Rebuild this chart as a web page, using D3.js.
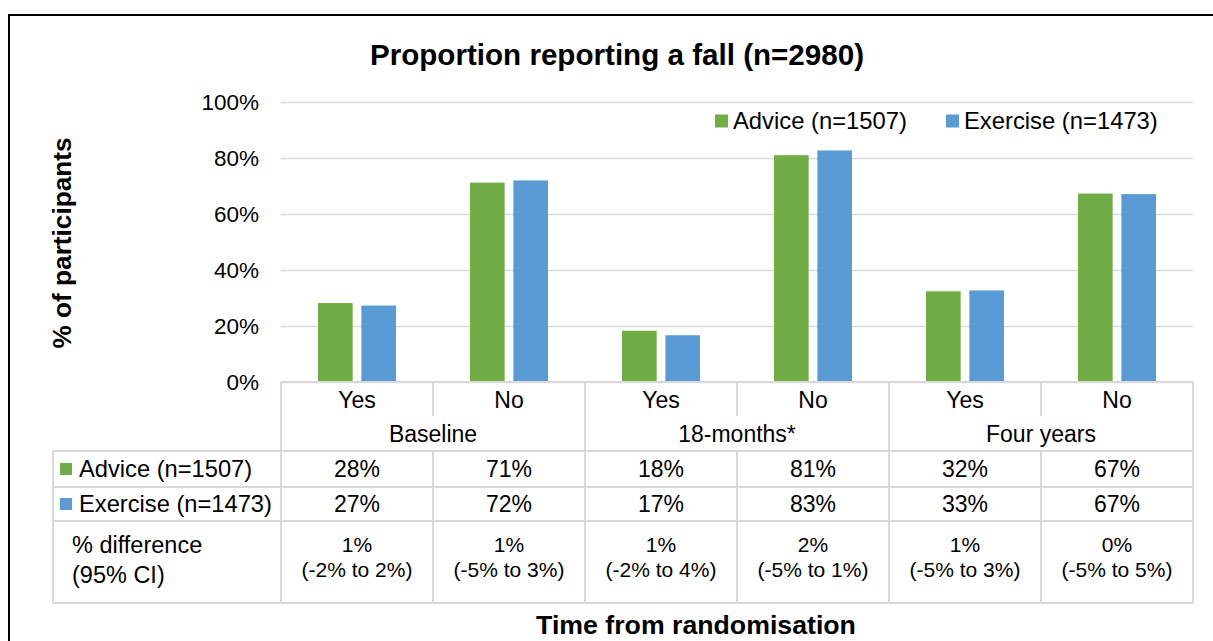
<!DOCTYPE html>
<html>
<head>
<meta charset="utf-8">
<script src="https://cdn.jsdelivr.net/npm/d3@7"></script>
<style>
    body { margin: 0; background: #fff; }
    svg { font-family: "Liberation Sans", Arial, sans-serif; }
</style>
</head>
<body>
<div id="fall-chart"></div>
<script>
// bar values and table labels
var categories = ["Yes", "No", "Yes", "No", "Yes", "No"];
var periods = ["Baseline", "18-months*", "Four years"];
var adviceValues = [28.2, 71.2, 18.3, 81.0, 32.4, 67.3];
var exerciseValues = [27.3, 72.0, 16.7, 82.7, 32.7, 67.1];
var adviceLabels = ["28%", "71%", "18%", "81%", "32%", "67%"];
var exerciseLabels = ["27%", "72%", "17%", "83%", "33%", "67%"];
var diffLabels = ["1%", "1%", "1%", "2%", "1%", "0%"];
var ciLabels = ["(-2% to 2%)", "(-5% to 3%)", "(-2% to 4%)", "(-5% to 1%)", "(-5% to 3%)", "(-5% to 5%)"];
var seriesNames = ["Advice (n=1507)", "Exercise (n=1473)"];
var yTicks = [0, 20, 40, 60, 80, 100];

var fallChart = function(containerElement){
    this.containerElement = containerElement;
    this.initializeGraph();
};

fallChart.prototype.initializeGraph = function(){

    var svg = d3.select(this.containerElement)
        .append("svg")
        .attr("width", 1213)
        .attr("height", 641);

    var plot = {left: 281, right: 1193, top: 102, bottom: 382};
    var rows = {group: 416, advice: 451, exercise: 487, diff: 521, end: 603};
    var tableLeft = 53;
    var gridColor = "#d9d9d9";

    var data = categories.map(function(c, i) {
        return {idx: i, cat: c, advice: adviceValues[i], exercise: exerciseValues[i]};
    });
    var keys = ["advice", "exercise"];

    var x0 = d3.scaleBand()
        .domain(d3.range(categories.length))
        .range([plot.left, plot.right])
        .padding(0);

    var x1 = d3.scaleBand()
        .domain(keys)
        .range([(x0.bandwidth() - 78) / 2, (x0.bandwidth() + 78) / 2])
        .paddingInner(0.2);

    var y = d3.scaleLinear()
        .domain([0, 100])
        .range([plot.bottom, plot.top]);

    var z = d3.scaleOrdinal()
        .domain(keys)
        .range(["#70ad47", "#5b9bd5"]);

    // outer frame
    svg.append("rect")
        .attr("x", 9)
        .attr("y", 15)
        .attr("width", 1220)
        .attr("height", 640)
        .attr("fill", "none")
        .attr("stroke", "#000")
        .attr("stroke-width", 2);

    // title
    svg.append("text")
        .attr("x", 617)
        .attr("y", 55)
        .attr("dy", "0.35em")
        .attr("text-anchor", "middle")
        .attr("font-weight", "bold")
        .attr("font-size", 29.6)
        .text("Proportion reporting a fall (n=2980)");

    // gridlines + tick labels
    var yAxis = svg.append("g")
        .attr("transform", "translate(" + plot.left + ",0)")
        .call(d3.axisLeft(y).tickValues(yTicks)
            .tickSize(-(plot.right - plot.left))
            .tickPadding(22)
            .tickFormat(function(d) { return d + "%"; }));
    yAxis.select(".domain").remove();
    yAxis.selectAll(".tick line")
        .attr("stroke", gridColor)
        .attr("stroke-width", 1.5);
    yAxis.selectAll(".tick text")
        .attr("fill", "#000")
        .attr("font-size", 22.5)
        .attr("font-family", "Liberation Sans, Arial, sans-serif");

    svg.append("text")
        .attr("transform", "translate(62,243) rotate(-90)")
        .attr("dy", "0.35em")
        .attr("text-anchor", "middle")
        .attr("font-weight", "bold")
        .attr("font-size", 26.2)
        .text("% of participants");

    // bars
    svg.append("g")
        .selectAll("g")
        .data(data)
        .enter().append("g")
        .attr("transform", function(d) { return "translate(" + x0(d.idx) + ",0)"; })
        .selectAll("rect")
        .data(function(d) { return keys.map(function(key) { return {key: key, value: d[key]}; }); })
        .enter().append("rect")
        .attr("x", function(d) { return x1(d.key); })
        .attr("y", function(d) { return y(d.value); })
        .attr("width", x1.bandwidth())
        .attr("height", function(d) { return y(0) - y(d.value); })
        .attr("fill", function(d) { return z(d.key); });

    // legend
    var legendX = [715, 946];
    var legend = svg.append("g")
        .selectAll("g")
        .data(keys)
        .enter().append("g")
        .attr("transform", function(d, i) { return "translate(" + legendX[i] + ",121)"; });
    legend.append("rect")
        .attr("x", 0).attr("y", -6.5)
        .attr("width", 13).attr("height", 13)
        .attr("fill", z);
    legend.append("text")
        .attr("x", 18)
        .attr("dy", "0.35em")
        .attr("font-size", 23.8)
        .text(function(d, i) { return seriesNames[i]; });

    // data table lines
    var lines = svg.append("g")
        .attr("stroke", gridColor)
        .attr("stroke-width", 2);
    var hLine = function(yy, x1_, x2_) {
        lines.append("line").attr("x1", x1_).attr("x2", x2_).attr("y1", yy).attr("y2", yy);
    };
    var vLine = function(xx, y1_, y2_) {
        lines.append("line").attr("x1", xx).attr("x2", xx).attr("y1", y1_).attr("y2", y2_);
    };
    hLine(plot.bottom, plot.left, plot.right);
    [rows.advice, rows.exercise, rows.diff, rows.end].forEach(function(r) { hLine(r, tableLeft, plot.right); });
    vLine(tableLeft, rows.advice, rows.end);
    d3.range(categories.length + 1).forEach(function(i) {
        var xx = i < categories.length ? x0(i) : plot.right;
        if (i % 2 === 0) {
            vLine(xx, plot.bottom, rows.end);
        } else {
            vLine(xx, plot.bottom, rows.group);
            vLine(xx, rows.advice, rows.end);
        }
    });

    var mid = function(i) { return x0(i) + x0.bandwidth() / 2; };
    var cells = svg.append("g").attr("text-anchor", "middle").attr("font-size", 23);

    cells.selectAll(".cat").data(categories).enter().append("text")
        .attr("x", function(d, i) { return mid(i); })
        .attr("y", (plot.bottom + rows.group) / 2 + 1)
        .attr("dy", "0.35em")
        .text(function(d) { return d; });

    cells.selectAll(".period").data(periods).enter().append("text")
        .attr("x", function(d, i) { return x0(i * 2 + 1); })
        .attr("y", (rows.group + rows.advice) / 2)
        .attr("dy", "0.35em")
        .text(function(d) { return d; });

    cells.selectAll(".adv").data(adviceLabels).enter().append("text")
        .attr("x", function(d, i) { return mid(i); })
        .attr("y", (rows.advice + rows.exercise) / 2)
        .attr("dy", "0.35em")
        .text(function(d) { return d; });

    cells.selectAll(".exe").data(exerciseLabels).enter().append("text")
        .attr("x", function(d, i) { return mid(i); })
        .attr("y", (rows.exercise + rows.diff) / 2)
        .attr("dy", "0.35em")
        .text(function(d) { return d; });

    cells.selectAll(".diff").data(diffLabels).enter().append("text")
        .attr("x", function(d, i) { return mid(i); })
        .attr("y", 545)
        .attr("dy", "0.35em")
        .attr("font-size", 21)
        .text(function(d) { return d; });

    cells.selectAll(".ci").data(ciLabels).enter().append("text")
        .attr("x", function(d, i) { return mid(i); })
        .attr("y", 570)
        .attr("dy", "0.35em")
        .attr("font-size", 21)
        .text(function(d) { return d; });

    // row headers
    var rowHead = svg.append("g")
        .selectAll("g")
        .data(keys)
        .enter().append("g")
        .attr("transform", function(d, i) {
            return "translate(60," + ([rows.advice, rows.exercise][i] + [rows.exercise, rows.diff][i]) / 2 + ")";
        });
    rowHead.append("rect")
        .attr("x", 0).attr("y", -6)
        .attr("width", 12).attr("height", 12)
        .attr("fill", z);
    rowHead.append("text")
        .attr("x", 19)
        .attr("dy", "0.35em")
        .attr("font-size", 23.7)
        .text(function(d, i) { return seriesNames[i]; });

    svg.append("text")
        .attr("x", 72).attr("y", 545).attr("dy", "0.35em")
        .attr("font-size", 23.5)
        .text("% difference");
    svg.append("text")
        .attr("x", 72).attr("y", 575).attr("dy", "0.35em")
        .attr("font-size", 23.5)
        .text("(95% CI)");

    // x axis title
    svg.append("text")
        .attr("x", 696)
        .attr("y", 625)
        .attr("dy", "0.35em")
        .attr("text-anchor", "middle")
        .attr("font-weight", "bold")
        .attr("font-size", 26.7)
        .text("Time from randomisation");
};

var fall_chart = new fallChart("#fall-chart");
</script>
</body>
</html>
